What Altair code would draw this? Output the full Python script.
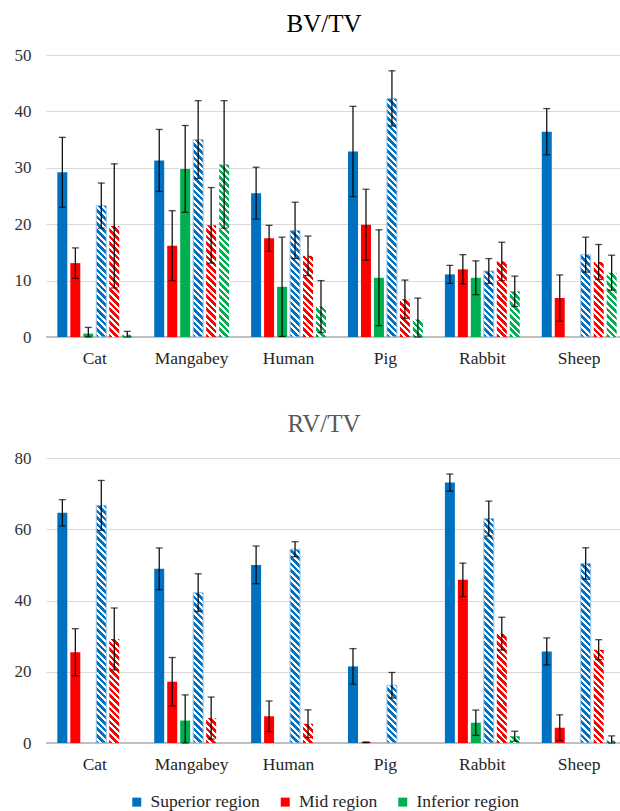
import altair as alt
import pandas as pd

# ---------------- data ----------------
animals = ["Cat", "Mangabey", "Human", "Pig", "Rabbit", "Sheep"]
regions = ["Superior region", "Mid region", "Inferior region"]
region_colors = ["#0070C0", "#FF0000", "#00B050"]
slots = ["Superior", "Mid", "Inferior", "Superior (hatched)", "Mid (hatched)", "Inferior (hatched)"]

# BV/TV
bv_sup = [29.2, 31.3, 25.5, 32.9, 11.1, 36.4]
bv_sup_err = [6.2, 5.5, 4.6, 8.0, 1.6, 4.1]
bv_mid = [13.1, 16.2, 17.5, 19.9, 12.0, 6.9]
bv_mid_err = [2.7, 6.2, 2.3, 6.3, 2.6, 4.1]
bv_inf = [0.6, 29.8, 8.9, 10.5, 10.5, None]
bv_inf_err = [1.1, 7.7, 8.8, 8.5, 3.0, None]
bv_sup_h = [23.3, 35.0, 18.9, 42.3, 11.7, 14.6]
bv_sup_h_err = [4.0, 6.9, 5.0, 4.9, 2.2, 3.1]
bv_mid_h = [19.7, 19.8, 14.4, 6.7, 13.4, 13.3]
bv_mid_h_err = [11.0, 6.7, 3.5, 3.4, 3.4, 3.1]
bv_inf_h = [0.4, 30.6, 5.4, 3.1, 8.1, 11.4]
bv_inf_h_err = [0.6, 11.3, 4.6, 3.8, 2.7, 3.1]

# RV/TV
rv_sup = [64.6, 48.9, 50.0, 21.5, 73.1, 25.7]
rv_sup_err = [3.7, 5.85, 5.3, 5.0, 2.4, 3.8]
rv_mid = [25.5, 17.2, 7.5, 0.2, 45.8, 4.3]
rv_mid_err = [6.6, 6.8, 4.3, 0.1, 4.7, 3.6]
rv_inf = [None, 6.3, None, None, 5.7, None]
rv_inf_err = [None, 7.2, None, None, 3.55, None]
rv_sup_h = [66.7, 42.2, 54.4, 16.2, 63.0, 50.4]
rv_sup_h_err = [7.0, 5.3, 2.1, 3.6, 4.9, 4.4]
rv_mid_h = [29.2, 7.0, 5.4, None, 30.7, 26.2]
rv_mid_h_err = [8.7, 5.9, 3.9, None, 4.6, 2.8]
rv_inf_h = [None, None, None, None, 1.9, 0.7]
rv_inf_h_err = [None, None, None, None, 1.4, 1.3]

# ---------------- styling ----------------
FONT = "Liberation Serif"
W = 574
X_RANGE = 582          # band layout runs a little past the (cropped) right edge
BAR_W = 10.0
STRIPE_PERIOD = 6.6
STRIPE_FILL = 0.55
HATCH_STROKE = {"#0070C0": "#9DC3E6"}


def build_df(series):
    rows = []
    for slot, region, hatched, vals, errs in series:
        for a, v, e in zip(animals, vals, errs):
            if v is None:
                continue
            rows.append(dict(animal=a, slot=slot, region=region, hatched=hatched, value=v, err=e))
    return pd.DataFrame(rows)


def hatch_gradient(color, h_px):
    w = BAR_W
    h = max(h_px, 1.0)
    c = (w + h) / (w * w + h * h)
    n = (w + h) / STRIPE_PERIOD
    stops = []
    k = 0
    while k < n:
        a = min(k / n, 1.0)
        b = min((k + STRIPE_FILL) / n, 1.0)
        d = min((k + 1) / n, 1.0)
        stops += [(a, color), (b, color), (b, "#FFFFFF"), (d, "#FFFFFF")]
        k += 1
    return alt.LinearGradient(
        gradient="linear", x1=0, y1=1, x2=c * w, y2=1 - c * h,
        stops=[alt.GradientStop(offset=round(o, 5), color=col) for o, col in stops],
    )


legend = alt.Legend(
    orient="none", legendX=82, legendY=738, direction="horizontal", title=None,
    symbolType="square", symbolSize=81, symbolStrokeWidth=0,
    labelFont=FONT, labelFontSize=17.5, labelColor="#262626", labelOffset=5,
    columnPadding=16.5, padding=0,
)


def panel(title, title_color, df, ymax, ystep, H, toffset):
    xenc = alt.X(
        "animal:N", title=None,
        scale=alt.Scale(domain=animals, range=[0, X_RANGE], paddingInner=0.227, paddingOuter=0.117),
        axis=alt.Axis(labelAngle=0, ticks=False, labelPadding=12, domain=False,
                      grid=False, labelFont=FONT, labelFontSize=17.5,
                      labelColor="#262626"),
    )
    xoff = alt.XOffset("slot:N", scale=alt.Scale(domain=slots, paddingInner=0.23, paddingOuter=0))
    yaxis = alt.Axis(values=list(range(0, ymax + 1, ystep)), ticks=False, domain=False,
                     labelPadding=15, gridColor="#D9D9D9", gridWidth=1,
                     labelFont=FONT, labelFontSize=17, labelColor="#333333")
    yscale = alt.Scale(domain=[0, ymax], nice=False, clamp=True)

    def yenc(field):
        return alt.Y(f"{field}:Q", title=None, scale=yscale, axis=yaxis)

    layers = []
    base_line = pd.DataFrame({"zero": [0]})
    layers.append(alt.Chart(base_line).mark_rule(color="#BFBFBF", strokeWidth=1.8).encode(
        y=yenc("zero")))
    solid = df[~df.hatched]
    layers.append(
        alt.Chart(solid).mark_bar().encode(
            x=xenc, xOffset=xoff, y=yenc("value"),
            color=alt.Color("region:N", scale=alt.Scale(domain=regions, range=region_colors),
                            legend=legend),
        )
    )
    hatched = df[df.hatched]
    for _, r in hatched.iterrows():
        col = region_colors[regions.index(r.region)]
        h_px = r.value * H / ymax
        mk = dict(fill=hatch_gradient(col, h_px))
        if col in HATCH_STROKE:
            mk.update(stroke=HATCH_STROKE[col], strokeWidth=1)
        one = pd.DataFrame([dict(animal=r.animal, slot=r.slot, value=r.value)])
        layers.append(alt.Chart(one).mark_bar(**mk).encode(x=xenc, xOffset=xoff, y=yenc("value")))

    err = df[df.err.notna()].copy()
    err["lo"] = err.value - err.err
    err["hi"] = err.value + err.err
    layers.append(alt.Chart(err).mark_rule(color="black", strokeWidth=1.2).encode(
        x=xenc, xOffset=xoff, y=yenc("lo"), y2="hi:Q"))
    for f in ["lo", "hi"]:
        layers.append(alt.Chart(err).mark_tick(color="black", orient="horizontal", size=7,
                                               thickness=1.3).encode(
            x=xenc, xOffset=xoff, y=yenc(f)))

    return alt.layer(*layers).properties(
        width=W, height=H,
        title=alt.TitleParams(text=title, font=FONT, fontSize=25, fontWeight="normal",
                              color=title_color, anchor="middle", dx=-9, offset=toffset,
                              baseline="alphabetic"),
    )


bv_df = build_df([
    ("Superior", "Superior region", False, bv_sup, bv_sup_err),
    ("Mid", "Mid region", False, bv_mid, bv_mid_err),
    ("Inferior", "Inferior region", False, bv_inf, bv_inf_err),
    ("Superior (hatched)", "Superior region", True, bv_sup_h, bv_sup_h_err),
    ("Mid (hatched)", "Mid region", True, bv_mid_h, bv_mid_h_err),
    ("Inferior (hatched)", "Inferior region", True, bv_inf_h, bv_inf_h_err),
])
rv_df = build_df([
    ("Superior", "Superior region", False, rv_sup, rv_sup_err),
    ("Mid", "Mid region", False, rv_mid, rv_mid_err),
    ("Inferior", "Inferior region", False, rv_inf, rv_inf_err),
    ("Superior (hatched)", "Superior region", True, rv_sup_h, rv_sup_h_err),
    ("Mid (hatched)", "Mid region", True, rv_mid_h, rv_mid_h_err),
    ("Inferior (hatched)", "Inferior region", True, rv_inf_h, rv_inf_h_err),
])

top = panel("BV/TV", "#000000", bv_df, 50, 10, 282, -11)
bottom = panel("RV/TV", "#595959", rv_df, 80, 20, 285, -8)

chart = (
    alt.vconcat(top, bottom, spacing=45)
    .resolve_scale(color="shared")
    .properties(padding={"left": 14, "top": 12, "right": -8, "bottom": 0}, background="white")
    .configure_view(stroke=None)
    .configure_axis(labelFont=FONT, labelFontSize=17, labelColor="#333333")
    .configure_axisX(labelFontSize=17.5, labelColor="#262626")
    .configure_legend(labelFont=FONT, labelFontSize=17.5)
    .configure_title(font=FONT)
)

chart.save("out.html", embed_options={"renderer": "svg", "actions": False})
